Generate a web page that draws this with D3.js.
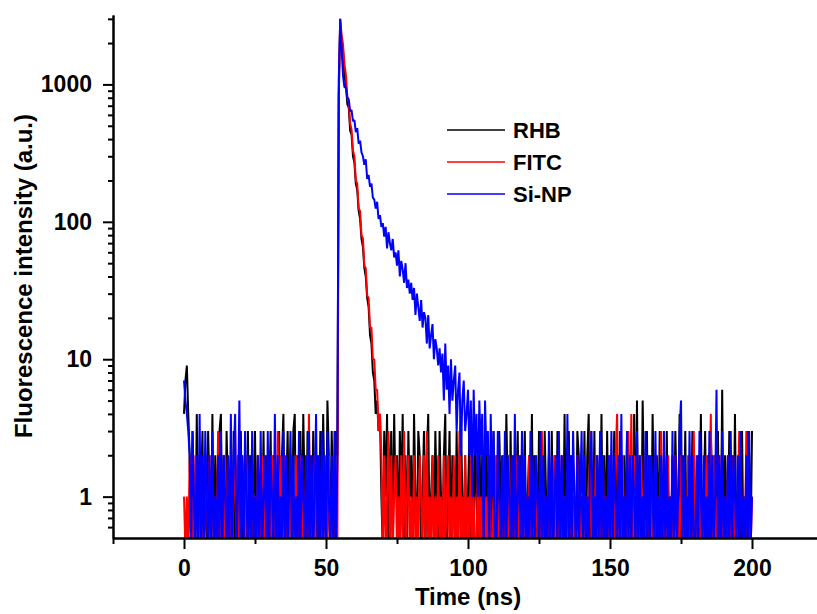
<!DOCTYPE html>
<html>
<head>
<meta charset="utf-8">
<script src="https://cdn.jsdelivr.net/npm/d3@7"></script>
<style>
  body { margin: 0; background: #fff; }
  svg { display: block; font-family: Arial, "Liberation Sans", sans-serif; }
</style>
</head>
<body>
<div id="chart"></div>
<script>
// time channels: counts are stored every 0.5 ns from 0 to 200 ns
const timeStart = 0;
const timeStep = 0.5;

const seriesNames = ['RHB', 'FITC', 'Si-NP'];
const seriesColors = ['#000000', '#ff0000', '#0000ff'];

const xMajorTicks = [0, 50, 100, 150, 200];
const xMinorTicks = [-25, 25, 75, 125, 175];
const yMajorTicks = [1, 10, 100, 1000];
const yMinorTicks = [0.6, 0.7, 0.8, 0.9, 2, 3, 4, 5, 6, 7, 8, 9, 20, 30, 40, 50, 60, 70, 80, 90,
  200, 300, 400, 500, 600, 700, 800, 900, 2000, 3000];

// photon counts per channel (one row = 10 ns)
const rhbCounts = [
  4,7,9,4,2,0,3,1,0,4,0,2,1,3,0,2,0,3,1,0,
  4,0,2,1,0,3,4,0,2,0,3,1,0,2,0,3,0,1,2,0,
  3,0,1,2,0,3,0,2,0,1,3,0,2,0,1,0,3,0,2,0,
  1,3,0,2,0,1,0,3,0,2,4,0,1,3,0,2,0,3,4,0,
  2,0,3,0,4,1,0,3,0,2,0,3,1,0,2,0,3,0,4,1,
  0,5,2,0,3,1,0,3,2,800,2800,2100,1700,1150,1000,720,680,460,430,300,
  270,190,170,120,105,75,66,46,40,28,24,15,13,8,7,4,5,3,4,1,
  0,3,1,4,0,2,3,0,4,1,2,0,3,1,4,0,2,0,3,1,
  2,0,4,1,0,3,2,0,1,3,0,2,4,0,1,2,0,3,1,0,
  3,1,0,2,4,0,1,3,0,2,1,0,3,0,2,4,1,0,2,0,
  1,3,0,2,0,3,1,0,4,0,2,1,0,3,0,2,0,1,3,0,
  2,0,3,1,0,2,0,4,1,0,3,0,2,0,1,3,0,2,0,1,
  3,0,1,2,0,4,0,2,1,0,3,0,2,0,3,1,0,2,0,3,
  0,2,0,3,1,0,2,0,4,0,1,3,0,2,0,1,0,3,2,0,
  1,0,3,0,2,4,0,1,0,3,0,2,1,0,4,0,2,0,3,0,
  2,0,1,3,0,2,0,3,1,0,2,0,3,0,1,2,0,4,0,5,
  0,2,0,5,1,0,3,0,2,0,4,1,0,2,0,3,0,1,2,0,
  3,0,1,0,2,0,3,1,0,4,0,2,0,3,0,1,2,0,3,0,
  1,0,2,0,4,0,1,3,0,2,0,3,1,0,2,0,3,0,0,6,
  0,2,1,0,3,0,2,0,4,0,1,2,0,3,0,1,0,3,2,0,
  3
];

const fitcCounts = [
  1,0,1,0,2,0,1,0,2,1,0,2,0,1,0,2,1,0,2,0,
  2,0,1,0,3,0,2,1,0,2,0,1,0,2,0,1,3,0,2,0,
  0,2,1,0,2,0,1,0,2,0,1,0,2,1,0,2,0,1,0,2,
  1,0,2,0,1,0,3,0,2,0,1,2,0,1,0,2,0,1,0,2,
  0,1,2,0,1,0,2,0,4,0,1,0,2,0,1,2,0,1,0,2,
  1,0,2,0,1,0,2,1,0,900,3000,2300,1950,1400,1180,820,740,520,470,330,
  300,200,190,125,120,80,76,48,46,29,28,17,17,10,10,6,6,3,4,2,
  0,2,0,1,3,0,2,0,1,2,0,1,0,2,0,3,0,1,2,0,
  1,0,2,0,1,0,2,1,0,2,0,3,0,1,0,2,0,1,0,2,
  0,1,0,2,0,1,2,0,1,0,2,0,1,0,3,0,1,0,2,0,
  1,0,2,0,1,0,0,2,0,1,0,2,0,1,0,2,0,0,1,0,
  2,0,1,0,0,2,0,1,0,2,0,1,0,0,2,0,1,0,2,0,
  0,1,0,2,0,0,1,0,2,0,1,0,3,0,1,0,0,2,0,1,
  0,2,0,1,0,0,2,0,1,0,2,0,1,0,0,1,0,2,0,1,
  0,0,2,0,1,0,3,0,1,0,2,0,0,1,0,2,0,1,0,0,
  2,0,1,0,2,4,0,1,0,2,0,1,0,3,0,4,0,2,0,0,
  1,0,2,0,0,1,0,2,0,1,0,0,2,0,1,0,3,0,1,0,
  0,2,0,1,0,0,2,0,1,0,2,0,1,0,0,2,0,1,0,3,
  0,1,0,2,0,0,1,0,2,0,1,4,0,2,0,1,0,2,0,0,
  1,0,0,2,0,1,0,2,0,0,1,3,2,0,1,0,3,0,1,0,
  1
];

const sinpCounts = [
  7,5,4,3,2,0,3,1,0,2,0,4,0,2,0,3,1,0,2,0,
  3,0,1,0,2,0,3,0,2,1,0,2,0,4,0,2,4,0,1,5,
  0,2,0,3,1,0,2,0,3,0,1,0,2,0,3,0,1,2,0,3,
  0,2,1,0,4,0,2,0,1,0,3,0,2,0,1,3,0,2,0,1,
  0,3,0,2,1,0,2,0,3,0,2,0,1,4,0,2,0,3,0,2,
  0,3,1,0,2,0,3,0,2,1100,3000,1800,1150,950,960,800,780,640,650,540,
  550,450,480,370,390,320,300,260,285,205,220,180,190,150,145,125,140,105,112,92,
  98,78,92,64,84,70,62,75,55,60,48,62,40,52,45,36,50,33,38,30,
  36,27,33,21,30,24,19,27,17,22,20,13,21,12,15,18,10,14,12,9,
  12,8,11,5,13,6,9,4,10,5,7,9,3,6,8,2,5,7,3,4,
  6,2,5,1,6,2,4,1,5,2,4,0,5,2,3,0,4,1,3,0,
  0,3,1,0,2,0,3,0,2,1,0,2,0,4,0,1,2,0,3,0,
  2,0,1,0,3,0,2,0,2,1,0,3,0,2,0,1,0,3,0,2,
  0,1,2,0,3,0,2,0,1,0,4,0,2,0,3,1,0,2,0,1,
  3,0,2,0,1,0,2,3,0,1,0,2,0,3,0,2,0,1,0,2,
  0,3,0,2,1,0,2,0,4,0,1,0,3,0,2,0,2,1,0,3,
  0,2,0,1,0,3,0,2,0,2,1,0,3,0,1,0,2,0,3,0,
  2,0,1,0,3,0,2,0,1,3,5,0,2,0,1,0,3,0,2,0,
  0,2,0,3,1,0,2,0,1,0,3,0,2,0,1,6,0,2,0,3,
  0,1,0,2,0,3,0,2,1,0,2,0,3,0,1,0,2,0,3,0,
  1
];

const allCounts = [rhbCounts, fitcCounts, sinpCounts];

let width = 817;
let height = 614;
let plotLeft = 113;
let plotTop = 15;
let plotBottom = 538;
let tickFont = '23px';

let svg = d3.select('#chart')
  .append('svg')
  .attr('width', width)
  .attr('height', height)
  .style('background-color', '#ffffff');

let xScale = d3.scaleLinear()
  .domain([-25, 225])
  .range([plotLeft, plotLeft + 710]);

let yScale = d3.scaleLog()
  .domain([0.5, 3200])
  .range([plotBottom, plotTop]);

svg.append('defs')
  .append('clipPath')
  .attr('id', 'plotClip')
  .append('rect')
  .attr('x', plotLeft)
  .attr('y', plotTop)
  .attr('width', width - plotLeft)
  .attr('height', plotBottom - plotTop);

// zero counts sit below the log axis, so drop them to the bottom edge
let line = d3.line()
  .x((d, i) => xScale(timeStart + i * timeStep))
  .y(d => d > 0 ? yScale(d) : yScale(0.4));

let content = svg.append('g').attr('clip-path', 'url(#plotClip)');

for (let i = 0; i < allCounts.length; i++) {
  content.append('path')
    .datum(allCounts[i])
    .attr('fill', 'none')
    .attr('stroke', seriesColors[i])
    .attr('stroke-width', 2)
    .attr('stroke-linejoin', 'bevel')
    .attr('d', line);
}

// axes
function styleAxis(g) {
  g.select('.domain').attr('stroke-width', 2);
  g.selectAll('.tick line').attr('stroke-width', 2);
  g.selectAll('text')
    .attr('font-size', tickFont)
    .attr('font-weight', 'bold')
    .attr('font-family', 'Arial, "Liberation Sans", sans-serif')
    .attr('fill', '#000');
}

svg.append('g')
  .attr('transform', `translate(0,${plotBottom})`)
  .call(d3.axisBottom(xScale).tickValues(xMajorTicks).tickSize(11).tickSizeOuter(0).tickPadding(11).tickFormat(d3.format('d')))
  .call(styleAxis);

svg.append('g')
  .attr('transform', `translate(0,${plotBottom})`)
  .call(d3.axisBottom(xScale).tickValues(xMinorTicks).tickSize(6).tickSizeOuter(0).tickFormat(''))
  .call(styleAxis);

svg.append('g')
  .attr('transform', `translate(${plotLeft},0)`)
  .call(d3.axisLeft(yScale).tickValues(yMajorTicks).tickSize(10).tickSizeOuter(0).tickPadding(11).tickFormat(d3.format('d')))
  .call(styleAxis);

svg.append('g')
  .attr('transform', `translate(${plotLeft},0)`)
  .call(d3.axisLeft(yScale).tickValues(yMinorTicks).tickSize(5).tickSizeOuter(0).tickFormat(''))
  .call(styleAxis);

// axis titles
svg.append('text')
  .attr('x', 468)
  .attr('y', 605)
  .attr('text-anchor', 'middle')
  .attr('font-size', '24px')
  .attr('font-weight', 'bold')
  .text('Time (ns)');

svg.append('text')
  .attr('transform', 'translate(32,276) rotate(-90)')
  .attr('text-anchor', 'middle')
  .attr('font-size', '24px')
  .attr('font-weight', 'bold')
  .text('Fluorescence intensity (a.u.)');

// legend
let legend = svg.append('g');
for (let i = 0; i < seriesNames.length; i++) {
  let ly = 130 + i * 32;
  legend.append('line')
    .attr('x1', 447)
    .attr('x2', 505)
    .attr('y1', ly)
    .attr('y2', ly)
    .attr('stroke', seriesColors[i])
    .attr('stroke-width', 1.5);
  legend.append('text')
    .attr('x', 513)
    .attr('y', ly + 8)
    .attr('font-size', '22px')
    .attr('font-weight', 'bold')
    .text(seriesNames[i]);
}
</script>
</body>
</html>
